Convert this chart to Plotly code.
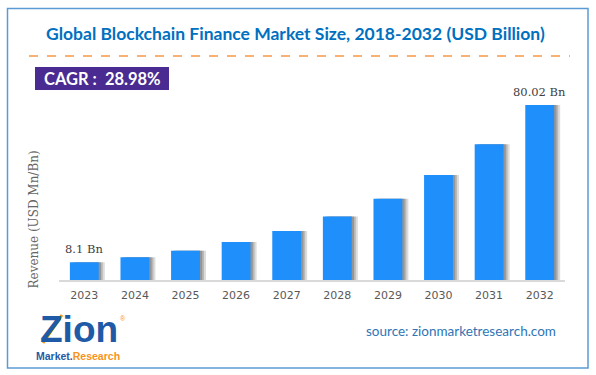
import plotly.graph_objects as go

years = ["2023", "2024", "2025", "2026", "2027", "2028", "2029", "2030", "2031", "2032"]
revenue = [8.1, 10.4, 13.4, 17.4, 22.4, 29.0, 37.2, 48.0, 62.1, 80.02]
bar_labels = ["8.1 Bn", "", "", "", "", "", "", "", "", "80.02 Bn"]

title_text = "Global Blockchain Finance Market Size, 2018-2032 (USD Billion)"
cagr_text = "CAGR :  28.98%"
source_text = "source: zionmarketresearch.com"
yaxis_title = "Revenue (USD Mn/Bn)"

W, H = 596, 375
L, R, T, B = 59, 31, 95, 95
PW, PH = W - L - R, H - T - B


def px(x):
    return (x - L) / PW


def py(y):
    return (H - B - y) / PH


fig = go.Figure()

bw = 0.57
# soft shadow layers
for dx, a in [(0.12, 0.18), (0.08, 0.22), (0.045, 0.28)]:
    fig.add_trace(go.Bar(
        x=years, y=revenue, width=bw, offset=-bw / 2 + dx,
        marker=dict(color=f"rgba(60,60,60,{a})", line=dict(width=0)),
        hoverinfo="skip", showlegend=False,
    ))

fig.add_trace(go.Bar(
    x=years, y=revenue, width=bw, offset=-bw / 2,
    marker=dict(color="#1E8FFB", line=dict(width=0)),
    showlegend=False,
))

for i, (v, lab) in enumerate(zip(revenue, bar_labels)):
    if lab:
        fig.add_annotation(
            x=i, y=v, xref="x", yref="y", text=lab, showarrow=False,
            yanchor="bottom", yshift=4,
            font=dict(family="DejaVu Serif", size=11.5, color="#404040"),
        )

# title
fig.add_annotation(
    x=px(295), y=py(33), xref="paper", yref="paper", text=f"<b>{title_text}</b>",
    showarrow=False, xanchor="center", yanchor="middle",
    font=dict(family="Lato", size=17.5, color="#0070C0"),
)
# dashed line
fig.add_shape(type="line", xref="paper", yref="paper", x0=px(29), x1=px(570), y0=py(56), y1=py(56),
              line=dict(color="#F79646", width=1.5, dash="dash"))
# CAGR box
fig.add_shape(type="rect", xref="paper", yref="paper", x0=px(35), x1=px(169), y0=py(90), y1=py(67),
              fillcolor="#4A2B91", line=dict(width=0))
fig.add_annotation(
    x=px(102), y=py(79), xref="paper", yref="paper", text=f"<b>{cagr_text}</b>",
    showarrow=False, xanchor="center", yanchor="middle",
    font=dict(family="Lato", size=16.5, color="white"),
)
# border
fig.add_shape(type="rect", xref="paper", yref="paper", x0=px(7.5), x1=px(588), y0=py(368), y1=py(8.5),
              line=dict(color="#5B9BD5", width=1.5), fillcolor="rgba(0,0,0,0)")
# y-axis title
fig.add_annotation(
    x=px(33.5), y=py(220), xref="paper", yref="paper", text=yaxis_title,
    showarrow=False, textangle=-90, xanchor="center", yanchor="middle",
    font=dict(family="DejaVu Serif", size=12, color="#666666"),
)
# source
fig.add_annotation(
    x=px(461), y=py(331), xref="paper", yref="paper", text=source_text,
    showarrow=False, xanchor="center", yanchor="middle",
    font=dict(family="Lato", size=13.5, color="#2E75B6"),
)
# logo
fig.add_annotation(
    x=px(79), y=py(329), xref="paper", yref="paper", text="<b>Zion</b>",
    showarrow=False, xanchor="center", yanchor="middle",
    font=dict(family="Liberation Sans", size=37, color="#1F5AA6"),
)
fig.add_shape(type="line", xref="paper", yref="paper", x0=px(43), x1=px(62), y0=py(343), y1=py(315),
              line=dict(color="#F7941D", width=3))
fig.add_annotation(
    x=px(78), y=py(356), xref="paper", yref="paper",
    text="<b><span style='color:#1F5AA6'>Market.</span><span style='color:#F7941D'>Research</span></b>",
    showarrow=False, xanchor="center", yanchor="middle",
    font=dict(family="Liberation Sans", size=10.5, color="#1F5AA6"),
)
fig.add_annotation(
    x=px(123), y=py(318), xref="paper", yref="paper", text="®",
    showarrow=False, xanchor="center", yanchor="middle",
    font=dict(family="Liberation Sans", size=7, color="#F7941D"),
)

fig.update_layout(
    width=W, height=H,
    margin=dict(l=L, r=R, t=T, b=B),
    paper_bgcolor="white", plot_bgcolor="white",
    barmode="overlay",
    xaxis=dict(
        type="category", showgrid=False, showline=True, linecolor="#D9D9D9", linewidth=1.5,
        ticks="", ticklabelstandoff=4,
        tickfont=dict(family="DejaVu Sans", size=11, color="#595959"),
        range=[-0.5, 9.5],
    ),
    yaxis=dict(range=[0, 84.6], visible=False, showgrid=False, zeroline=False),
    hovermode=False,
)

fig.write_html("out.html", config={"displayModeBar": False},
               post_script="document.body.style.margin='0';document.body.style.overflow='hidden';")
